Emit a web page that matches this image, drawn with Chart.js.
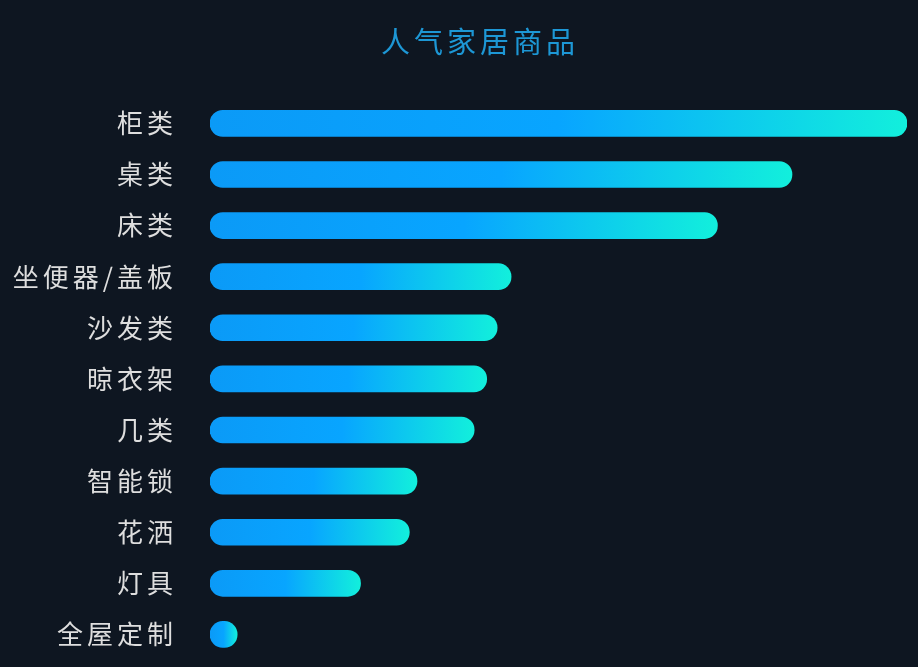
<!DOCTYPE html>
<html>
<head>
<meta charset="utf-8">
<script src="https://cdn.jsdelivr.net/npm/chart.js@4"></script>
<style>
  html, body { margin: 0; padding: 0; background: #0e1621; overflow: hidden; }
  canvas { display: block; }
</style>
</head>
<body>
<canvas id="chart" width="918" height="667"></canvas>
<script>
// 人气家居商品 - 数据
const categories = ['柜类', '桌类', '床类', '坐便器/盖板', '沙发类', '晾衣架', '几类', '智能锁', '花洒', '灯具', '全屋定制'];
const values = [100, 83.5, 72.8, 43.2, 41.2, 39.7, 37.9, 29.7, 28.6, 21.6, 3.9];

// 每根柱子单独做渐变：蓝色 -> 末端青色
const barGradient = (context) => {
  const chart = context.chart;
  const xScale = chart.scales.x;
  if (!chart.chartArea || !xScale) {
    return '#0aa0ff';
  }
  const x0 = xScale.getPixelForValue(0);
  const x1 = xScale.getPixelForValue(context.raw);
  if (!isFinite(x0) || !isFinite(x1) || x1 - x0 < 1) {
    return '#0aa0ff';
  }
  const g = chart.ctx.createLinearGradient(x0, 0, x1, 0);
  g.addColorStop(0, '#0b9af7');
  g.addColorStop(0.5, '#08a5ff');
  g.addColorStop(1, '#12efdc');
  return g;
};

// 字间距 + 标题稍微往右挪一点
const textTweaks = {
  id: 'textTweaks',
  afterLayout: (chart) => {
    if (chart.titleBlock) {
      chart.titleBlock.left += 43;
    }
  },
  beforeDraw: (chart) => {
    chart.ctx.letterSpacing = '4px';
  },
};

const ctx = document.getElementById('chart').getContext('2d');
new Chart(ctx, {
  type: 'bar',
  data: {
    labels: categories,
    datasets: [
      {
        label: '人气家居商品',
        data: values,
        backgroundColor: barGradient,
        borderRadius: 13,
        borderSkipped: false,
        barThickness: 26,
      },
    ],
  },
  plugins: [textTweaks],
  options: {
    indexAxis: 'y',
    responsive: false,
    animation: false,
    layout: {
      padding: { top: 6, right: 11, bottom: 7, left: 10 },
    },
    plugins: {
      legend: { display: false },
      tooltip: { enabled: false },
      title: {
        display: true,
        text: '人气家居商品',
        color: '#1d97d5',
        font: { size: 29, family: '"Noto Sans CJK SC", sans-serif', weight: 'normal' },
        padding: { top: 19, bottom: 38 },
      },
    },
    scales: {
      x: {
        min: 0,
        max: 100,
        display: false,
        grid: { display: false },
      },
      y: {
        grid: { display: false },
        border: { display: false },
        afterFit: (axis) => {
          axis.width = 200;
          // 不让标签的上下留白压缩绘图区
          axis.paddingTop = 0;
          axis.paddingBottom = 0;
        },
        ticks: {
          color: '#dedede',
          padding: 25,
          font: { size: 26, family: '"Noto Sans CJK SC", sans-serif' },
        },
      },
    },
  },
});
</script>
</body>
</html>
